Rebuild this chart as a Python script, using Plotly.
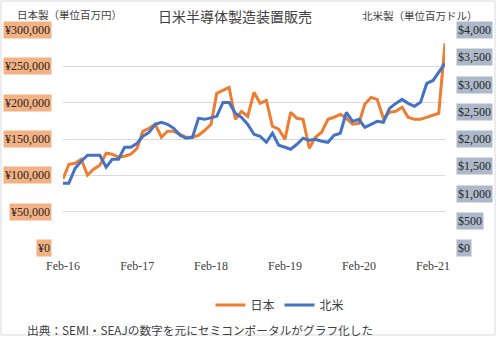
import pandas as pd
import plotly.graph_objects as go

# ---- data ----
start_month = "2016-02-01"
japan = [95000, 115300, 116700, 122200, 100200, 108500, 114000, 130400, 129100, 125000,
         126300, 129100, 137300, 160600, 164800, 170300, 152400, 160600, 160600, 156500,
         152400, 152400, 155100, 162000, 170300, 212800, 216900, 221100, 177100, 188100,
         181200, 214200, 199100, 203200, 167500, 163400, 149700, 186700, 178500, 177100,
         137300, 152400, 159300, 177100, 179900, 184000, 178500, 170300, 171600, 197700,
         207300, 204600, 178500, 186700, 188100, 193600, 179900, 177100, 177100, 179900,
         182600, 185400, 281500]
north_america = [1190, 1190, 1464, 1592, 1702, 1702, 1702, 1482, 1629, 1629,
                 1848, 1848, 1922, 2050, 2123, 2269, 2306, 2269, 2196, 2068,
                 2013, 2031, 2379, 2361, 2397, 2416, 2672, 2672, 2471, 2397,
                 2269, 2086, 2050, 1940, 2105, 1885, 1848, 1812, 1903, 2013,
                 1976, 1995, 1958, 1940, 2068, 2105, 2489, 2324, 2361, 2214,
                 2269, 2324, 2306, 2562, 2654, 2727, 2654, 2599, 2672, 3020,
                 3074, 3221, 3386]
left_ticks = [0, 50000, 100000, 150000, 200000, 250000, 300000]
left_labels = ["¥0", "¥50,000", "¥100,000", "¥150,000", "¥200,000", "¥250,000", "¥300,000"]
right_ticks = [0, 500, 1000, 1500, 2000, 2500, 3000, 3500, 4000]
right_labels = ["$0", "$500", "$1,000", "$1,500", "$2,000", "$2,500", "$3,000", "$3,500", "$4,000"]
series_names = ["日本", "北米"]
title_text = "日米半導体製造装置販売"
left_title = "日本製（単位百万円）"
right_title = "北米製（単位百万ドル）"
source_text = "出典：SEMI・SEAJの数字を元にセミコンポータルがグラフ化した"

dates = pd.date_range(start_month, periods=len(japan), freq="MS")

# ---- layout constants ----
W, H = 497, 337
ML, MR, MT, MB = 63, 52, 30, 89
PW = W - ML - MR
PH = H - MT - MB
SERIF = "Liberation Serif, Times New Roman, serif"
CJK = "Noto Sans CJK JP, sans-serif"
TXT = "#404040"

fig = go.Figure()
fig.add_trace(go.Scatter(x=dates, y=japan, name=series_names[0], mode="lines",
                         line=dict(color="#ED7D31", width=3), yaxis="y"))
fig.add_trace(go.Scatter(x=dates, y=north_america, name=series_names[1], mode="lines",
                         line=dict(color="#4472C4", width=3), yaxis="y2"))

annotations = []
for v, t in zip(left_ticks, left_labels):
    annotations.append(dict(x=(52 - ML) / PW, xref="paper", y=v, yref="y", text=t,
                            showarrow=False, xanchor="right", yanchor="middle",
                            font=dict(family=SERIF, size=12, color="#262626"),
                            bgcolor="#F4B183", borderpad=1))
for v, t in zip(right_ticks, right_labels):
    annotations.append(dict(x=(456 - ML) / PW, xref="paper", y=v, yref="y2", text=t,
                            showarrow=False, xanchor="left", yanchor="middle",
                            font=dict(family=SERIF, size=12, color="#262626"),
                            bgcolor="#ADB9CA", borderpad=1))
annotations.append(dict(x=(15 - ML) / PW, xref="paper", y=(H - MB - 14) / PH, yref="paper",
                        text=left_title, showarrow=False, xanchor="left", yanchor="middle",
                        font=dict(family=CJK, size=10.5, color=TXT)))
annotations.append(dict(x=(360 - ML) / PW, xref="paper", y=(H - MB - 15) / PH, yref="paper",
                        text=right_title, showarrow=False, xanchor="left", yanchor="middle",
                        font=dict(family=CJK, size=10.5, color=TXT)))
annotations.append(dict(x=(235 - ML) / PW, xref="paper", y=(H - MB - 16) / PH, yref="paper",
                        text=title_text, showarrow=False, xanchor="center", yanchor="middle",
                        font=dict(family=CJK, size=14, color=TXT)))
annotations.append(dict(x=(25 - ML) / PW, xref="paper", y=(H - MB - 329) / PH, yref="paper",
                        text=source_text, showarrow=False, xanchor="left", yanchor="middle",
                        font=dict(family=CJK, size=11.7, color=TXT)))

shapes = [dict(type="rect", xref="paper", yref="paper",
               x0=(1 - ML) / PW, x1=(W - 2 - ML) / PW,
               y0=(H - MB - (H - 2)) / PH, y1=(H - MB - 1) / PH,
               line=dict(color="#D9D9D9", width=1), fillcolor="rgba(0,0,0,0)", layer="below")]

fig.update_layout(
    width=W, height=H,
    margin=dict(l=ML, r=MR, t=MT, b=MB, pad=0),
    paper_bgcolor="white", plot_bgcolor="white",
    showlegend=True,
    legend=dict(orientation="h", x=(280 - ML) / PW, xanchor="center",
                y=(H - MB - 305) / PH, yanchor="middle",
                font=dict(family=CJK, size=12, color=TXT), bgcolor="rgba(0,0,0,0)"),
    xaxis=dict(type="date", range=[dates[0], dates[-1]], tick0=start_month, dtick="M12",
               tickformat="%b-%y", showgrid=False, zeroline=False, showline=False,
               ticks="outside", ticklen=7, tickcolor="rgba(0,0,0,0)",
               tickfont=dict(family=SERIF, size=12, color=TXT)),
    yaxis=dict(range=[0, 300000], tickvals=left_ticks, showticklabels=False,
               showgrid=True, gridcolor="#D9D9D9", gridwidth=1, zeroline=False, fixedrange=True),
    yaxis2=dict(range=[0, 4000], overlaying="y", side="right", tickvals=right_ticks,
                showticklabels=False, showgrid=False, zeroline=False),
    annotations=annotations,
    shapes=shapes,
)

fig.write_html("out.html")
